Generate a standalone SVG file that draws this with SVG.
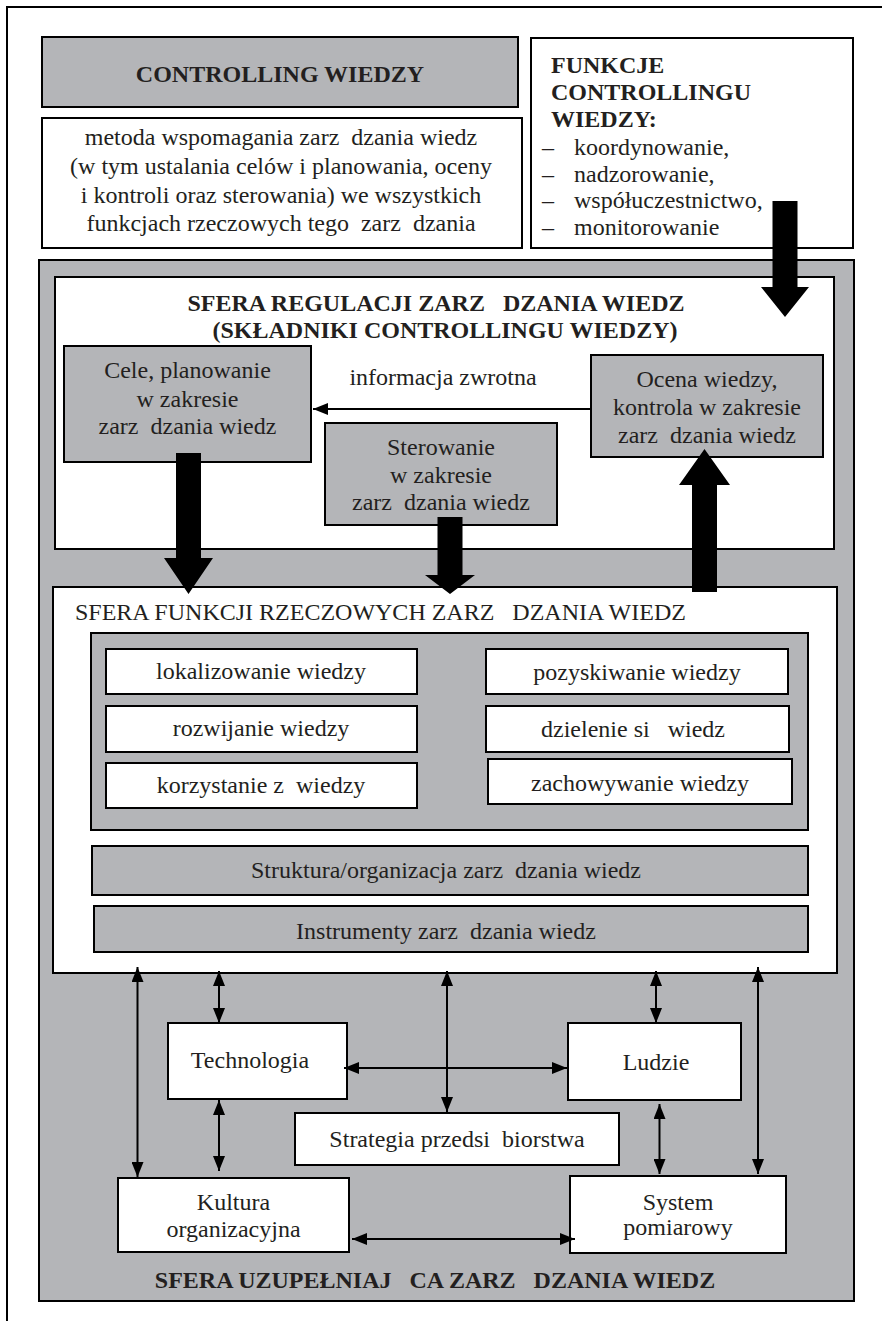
<svg xmlns="http://www.w3.org/2000/svg" width="882" height="1321" viewBox="0 0 882 1321">
<defs>
<style>
.t{font-family:"Liberation Serif","Times New Roman",serif;font-size:24px;fill:#231f20;}
.m{text-anchor:middle;}
.b{font-weight:bold;}
.g{fill:#b4b5b8;stroke:#000;stroke-width:2;}
.w{fill:#fff;stroke:#000;stroke-width:2;}
.c{stroke:#000;stroke-width:2;fill:none;}
.big{fill:#000;}
</style>
<marker id="ah" markerUnits="userSpaceOnUse" markerWidth="16" markerHeight="12" refX="15" refY="6" orient="auto-start-reverse"><path d="M0,0 L15,6 L0,12 z" fill="#000"/></marker>
</defs>
<rect width="882" height="1321" fill="#fff"/>
<path d="M882,7 H7 V1321" class="c"/>

<g id="controlling-title">
<rect x="42" y="37" width="476" height="70" class="g"/>
<text x="280" y="82" class="t m b">CONTROLLING WIEDZY</text>
</g>
<g id="definition">
<rect x="42" y="118" width="480" height="130" class="w"/>
<text x="281" y="145" class="t m">metoda wspomagania zarz&#160; dzania wiedz</text>
<text x="281" y="174" class="t m">(w tym ustalania celów i planowania, oceny</text>
<text x="281" y="202.5" class="t m">i kontroli oraz sterowania) we wszystkich</text>
<text x="281" y="231" class="t m">funkcjach rzeczowych tego&#160; zarz&#160; dzania</text>
</g>
<g id="functions-list">
<rect x="531" y="38" width="322" height="210" class="w"/>
<text x="551" y="73" class="t b">FUNKCJE</text>
<text x="551" y="100" class="t b">CONTROLLINGU</text>
<text x="551" y="127" class="t b">WIEDZY:</text>
<text x="542" y="155" class="t">–</text><text x="574" y="155" class="t">koordynowanie,</text>
<text x="542" y="182" class="t">–</text><text x="574" y="182" class="t">nadzorowanie,</text>
<text x="542" y="208" class="t">–</text><text x="574" y="208" class="t">współuczestnictwo,</text>
<text x="542" y="235" class="t">–</text><text x="574" y="235" class="t">monitorowanie</text>
</g>

<g id="sfera-uzupelniajaca">
<rect x="39" y="260" width="815" height="1041" class="g"/>
<text x="435" y="1288" class="t m b">SFERA UZUPEŁNIAJ&#160;&#160; CA ZARZ&#160;&#160; DZANIA WIEDZ</text>
</g>

<g id="sfera-regulacji">
<rect x="55" y="277" width="779" height="272" class="w"/>
<text x="436" y="311" class="t m b">SFERA REGULACJI ZARZ&#160;&#160; DZANIA WIEDZ</text>
<text x="445" y="337.5" class="t m b">(SKŁADNIKI CONTROLLINGU WIEDZY)</text>
</g>
<g id="cele">
<rect x="64" y="346" width="247" height="116" class="g"/>
<text x="187.5" y="378" class="t m">Cele, planowanie</text>
<text x="187.5" y="407" class="t m">w zakresie</text>
<text x="187.5" y="434" class="t m">zarz&#160; dzania wiedz</text>
</g>
<g id="sterowanie">
<rect x="325" y="423" width="232" height="102" class="g"/>
<text x="441" y="455" class="t m">Sterowanie</text>
<text x="441" y="483" class="t m">w zakresie</text>
<text x="441" y="510" class="t m">zarz&#160; dzania wiedz</text>
</g>
<g id="ocena">
<rect x="591" y="355" width="232" height="102" class="g"/>
<text x="707" y="387" class="t m">Ocena wiedzy,</text>
<text x="707" y="415" class="t m">kontrola w zakresie</text>
<text x="707" y="443" class="t m">zarz&#160; dzania wiedz</text>
</g>
<text x="443" y="385" class="t m">informacja zwrotna</text>

<g id="sfera-funkcji">
<rect x="53" y="587" width="784" height="386" class="w"/>
<text x="75" y="620" class="t">SFERA FUNKCJI RZECZOWYCH ZARZ&#160;&#160; DZANIA WIEDZ</text>
<rect x="91" y="633" width="717" height="197" class="g"/>
</g>
<g id="lokalizowanie"><rect x="106" y="649" width="311" height="45" class="w"/><text x="261" y="679" class="t m">lokalizowanie wiedzy</text></g>
<g id="rozwijanie"><rect x="106" y="706" width="311" height="46" class="w"/><text x="261" y="736" class="t m">rozwijanie wiedzy</text></g>
<g id="korzystanie"><rect x="106" y="763" width="311" height="45" class="w"/><text x="261" y="793" class="t m">korzystanie z&#160; wiedzy</text></g>
<g id="pozyskiwanie"><rect x="486" y="649" width="302" height="45" class="w"/><text x="637" y="680" class="t m">pozyskiwanie wiedzy</text></g>
<g id="dzielenie"><rect x="486" y="706" width="303" height="46" class="w"/><text x="633" y="737" class="t m">dzielenie si&#160;&#160; wiedz</text></g>
<g id="zachowywanie"><rect x="488" y="759" width="304" height="45" class="w"/><text x="640" y="791" class="t m">zachowywanie wiedzy</text></g>
<g id="struktura"><rect x="92" y="846" width="716" height="49" class="g"/><text x="446" y="878" class="t m">Struktura/organizacja zarz&#160; dzania wiedz</text></g>
<g id="instrumenty"><rect x="94" y="906" width="714" height="46" class="g"/><text x="446" y="939" class="t m">Instrumenty zarz&#160; dzania wiedz</text></g>

<g id="technologia"><rect x="168" y="1023" width="179" height="76" class="w"/><text x="250" y="1068" class="t m">Technologia</text></g>
<g id="ludzie"><rect x="568" y="1023" width="173" height="77" class="w"/><text x="656" y="1070" class="t m">Ludzie</text></g>
<g id="strategia"><rect x="295" y="1113" width="324" height="52" class="w"/><text x="457" y="1147" class="t m">Strategia przedsi&#160; biorstwa</text></g>
<g id="kultura"><rect x="118" y="1178" width="231" height="74" class="w"/><text x="233.5" y="1210" class="t m">Kultura</text><text x="233.5" y="1237" class="t m">organizacyjna</text></g>
<g id="system"><rect x="570" y="1176" width="216" height="77" class="w"/><text x="678" y="1210" class="t m">System</text><text x="678" y="1235" class="t m">pomiarowy</text></g>

<g id="connectors">
<line x1="592" y1="409" x2="313" y2="409" class="c" marker-end="url(#ah)"/>
<line x1="137.5" y1="967" x2="137.5" y2="1177" class="c" marker-start="url(#ah)" marker-end="url(#ah)"/>
<line x1="219" y1="971" x2="219" y2="1023" class="c" marker-start="url(#ah)" marker-end="url(#ah)"/>
<line x1="219" y1="1100" x2="219" y2="1171" class="c" marker-start="url(#ah)" marker-end="url(#ah)"/>
<line x1="344" y1="1068" x2="567" y2="1068" class="c" marker-start="url(#ah)" marker-end="url(#ah)"/>
<line x1="447" y1="971" x2="447" y2="1112" class="c" marker-start="url(#ah)" marker-end="url(#ah)"/>
<line x1="656" y1="971" x2="656" y2="1023" class="c" marker-start="url(#ah)" marker-end="url(#ah)"/>
<line x1="659.5" y1="1104" x2="659.5" y2="1174" class="c" marker-start="url(#ah)" marker-end="url(#ah)"/>
<line x1="758" y1="967" x2="758" y2="1174" class="c" marker-start="url(#ah)" marker-end="url(#ah)"/>
<line x1="352" y1="1239" x2="575" y2="1239" class="c" marker-start="url(#ah)" marker-end="url(#ah)"/>
<polygon class="big" points="772.5,201 797.5,201 797.5,287 809,287 785,317 761,287 772.5,287"/>
<polygon class="big" points="176,453 201,453 201,558 213,558 188.5,594 164,558 176,558"/>
<polygon class="big" points="437.5,517 462.5,517 462.5,575 475,575 450,594 425,575 437.5,575"/>
<polygon class="big" points="692,592 717,592 717,485 730,485 704.5,449 679,485 692,485"/>
</g>
</svg>
